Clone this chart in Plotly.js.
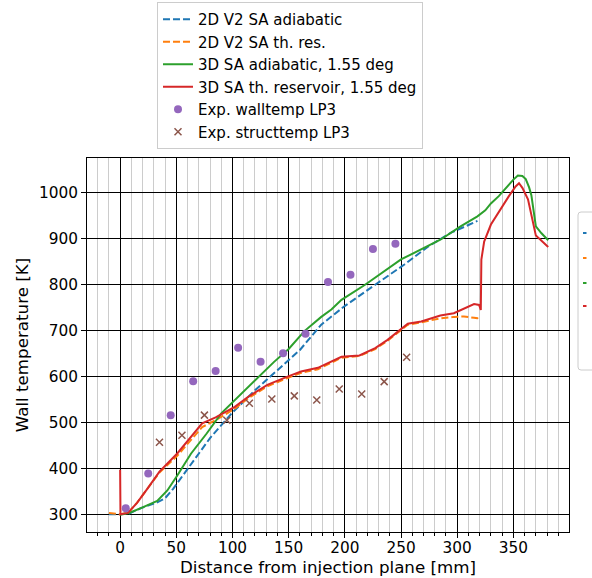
<!DOCTYPE html>
<html><head><meta charset="utf-8">
<script src="https://cdn.plot.ly/plotly-3.0.1.min.js"></script>
<style>html,body{margin:0;padding:0;background:#fff}#chart{width:592px;height:578px}</style>
</head><body><div id="chart"></div><script>
// 2D V2 SA adiabatic
const blueX = [-10, 0, 8, 20, 33, 40, 47, 55, 65, 80, 100, 120, 140, 160, 179, 199, 227, 253, 274, 295, 310, 318];
const blueY = [300, 300, 302, 315, 326, 335, 355, 382, 418, 466, 522, 570, 614, 658, 713, 752, 800, 844, 883, 914, 930, 939];
// 2D V2 SA th. res.
const orangeX = [-10, -5, 0, 7, 15, 24, 35, 51, 62, 73, 85, 92, 102, 114, 131, 149, 161, 176, 188, 197, 213, 227, 238, 247, 256, 268, 285, 297, 306, 315, 318, 320];
const orangeY = [303, 301, 300, 303, 325, 355, 391, 428, 460, 490, 505, 515, 530, 553, 579, 597, 608, 616, 630, 641, 645, 660, 678, 696, 713, 718, 727, 730, 731, 728, 727, 721];
// 3D SA adiabatic, 1.55 deg
const greenX = [0, 8, 20, 33, 42, 51, 63, 77, 90, 102, 120, 137, 150, 164, 179, 188, 197, 218, 250, 285, 303, 318, 325, 330, 337, 342, 350, 354, 358, 361, 364, 366, 370, 375, 381];
const greenY = [299, 303, 315, 329, 352, 385, 432, 476, 520, 549, 593, 632, 660, 699, 730, 746, 767, 800, 855, 898, 927, 949, 962, 977, 993, 1007, 1029, 1038, 1037, 1030, 1012, 995, 927, 912, 897];
// 3D SA th. reservoir, 1.55 deg
const redX = [0, 0.3, 7, 15, 24, 35, 51, 62, 73, 85, 92, 102, 114, 131, 149, 161, 176, 188, 197, 213, 227, 238, 247, 256, 268, 285, 297, 307, 315, 319.5, 321, 321.5, 324, 330, 339, 346, 352, 355, 358, 363, 370, 375, 381];
const redY = [397, 300, 303, 325, 355, 393, 433, 466, 498, 511, 520, 534, 556, 582, 600, 611, 619, 632, 643, 646, 662, 680, 698, 715, 720, 733, 738, 749, 758, 756, 745, 855, 894, 931, 967, 993, 1014, 1021, 1011, 986, 907, 895, 882];
// Exp. walltemp LP3
const wallX = [5, 25, 45, 65, 85, 105, 125, 145, 165, 185, 205, 225, 245];
const wallY = [313, 389, 516, 590, 612, 663, 632, 651, 693, 806, 822, 878, 889];
// Exp. structtemp LP3
const structX = [35, 55, 75, 95, 115, 135, 155, 175, 195, 215, 235, 255];
const structY = [457, 472, 516, 505, 542, 551, 558, 549, 573, 562, 589, 642];

const names = ['2D V2 SA adiabatic', '2D V2 SA th. res.', '3D SA adiabatic, 1.55 deg', '3D SA th. reservoir, 1.55 deg', 'Exp. walltemp LP3', 'Exp. structtemp LP3'];
const colors = ['#1f77b4', '#ff7f0e', '#2ca02c', '#d62728', '#9467bd', '#8c564b'];

const traces = [
  {x: blueX, y: blueY, name: names[0], mode: 'lines', line: {color: colors[0], width: 2, dash: '7px,3px'}},
  {x: orangeX, y: orangeY, name: names[1], mode: 'lines', line: {color: colors[1], width: 2, dash: '7px,3px'}},
  {x: greenX, y: greenY, name: names[2], mode: 'lines', line: {color: colors[2], width: 2}},
  {x: redX, y: redY, name: names[3], mode: 'lines', line: {color: colors[3], width: 2}},
  {x: wallX, y: wallY, name: names[4], mode: 'markers', marker: {color: colors[4], size: 8, symbol: 'circle'}},
  {x: structX, y: structY, name: names[5], mode: 'markers', marker: {color: colors[5], size: 7, symbol: 'x-thin-open', line: {color: colors[5], width: 1.5}}}
];

// pixel -> paper helpers for the clipped side legend decoration
const L = 87, R = 569, T = 158, B = 532;
const px = v => (v - L) / (R - L);
const py = v => (B - v) / (B - T);
const bx0 = 578, bx1 = 640, by0 = 212, by1 = 370, rr = 3;
const boxPath = `M ${px(bx0 + rr)} ${py(by0)} L ${px(bx1)} ${py(by0)} L ${px(bx1)} ${py(by1)} L ${px(bx0 + rr)} ${py(by1)} Q ${px(bx0)} ${py(by1)} ${px(bx0)} ${py(by1 - rr)} L ${px(bx0)} ${py(by0 + rr)} Q ${px(bx0)} ${py(by0)} ${px(bx0 + rr)} ${py(by0)} Z`;
const sideY = [233, 258, 283, 306];
const shapes = [{type: 'path', xref: 'paper', yref: 'paper', path: boxPath, line: {color: '#cccccc', width: 1}, fillcolor: 'white', layer: 'above'}];
sideY.forEach((yy, i) => shapes.push({type: 'line', xref: 'paper', yref: 'paper', x0: px(583), x1: px(586.5), y0: py(yy), y1: py(yy), line: {color: colors[i], width: 2}}));

const fam = 'DejaVu Sans, sans-serif';
const tickFont = {family: fam, size: 15.3, color: '#000'};
const titleFont = {family: fam, size: 16.7, color: '#000'};
const legendFont = {family: fam, size: 15, color: '#000'};
const layout = {
  width: 592, height: 578,
  margin: {l: L, r: 592 - R, t: T, b: 578 - B, pad: 0},
  paper_bgcolor: '#fff', plot_bgcolor: '#fff',
  font: {family: fam, size: 15, color: '#000'},
  showlegend: true,
  legend: {x: px(157), xref: 'paper', y: 1 - 2 / 578, yref: 'container', xanchor: 'left', yanchor: 'top', bgcolor: 'rgba(255,255,255,0.8)', bordercolor: '#cccccc', borderwidth: 1, font: legendFont},
  xaxis: {
    range: [-29.5, 399.5], tick0: 0, dtick: 50, ticks: 'outside', ticklen: 5, tickwidth: 1, tickcolor: '#000',
    ticklabelstandoff: -3,
    showgrid: true, gridcolor: '#000', gridwidth: 1, zeroline: false,
    showline: true, mirror: true, linecolor: '#000', linewidth: 1,
    tickfont: tickFont,
    minor: {dtick: 10, tick0: 0, ticks: 'outside', ticklen: 3, tickcolor: '#000', showgrid: true, gridcolor: '#cccccc', gridwidth: 1},
    title: {text: 'Distance from injection plane [mm]', font: titleFont, standoff: 4}
  },
  yaxis: {
    range: [261.5, 1076], tick0: 0, dtick: 100, ticks: 'outside', ticklen: 5, tickwidth: 1, tickcolor: '#000',
    showgrid: true, gridcolor: '#000', gridwidth: 1, zeroline: false,
    showline: true, mirror: true, linecolor: '#000', linewidth: 1,
    tickfont: tickFont,
    title: {text: 'Wall temperature [K]', font: titleFont, standoff: 6}
  },
  shapes: shapes
};
Plotly.newPlot('chart', traces, layout, {displayModeBar: false, staticPlot: true});
</script></body></html>
